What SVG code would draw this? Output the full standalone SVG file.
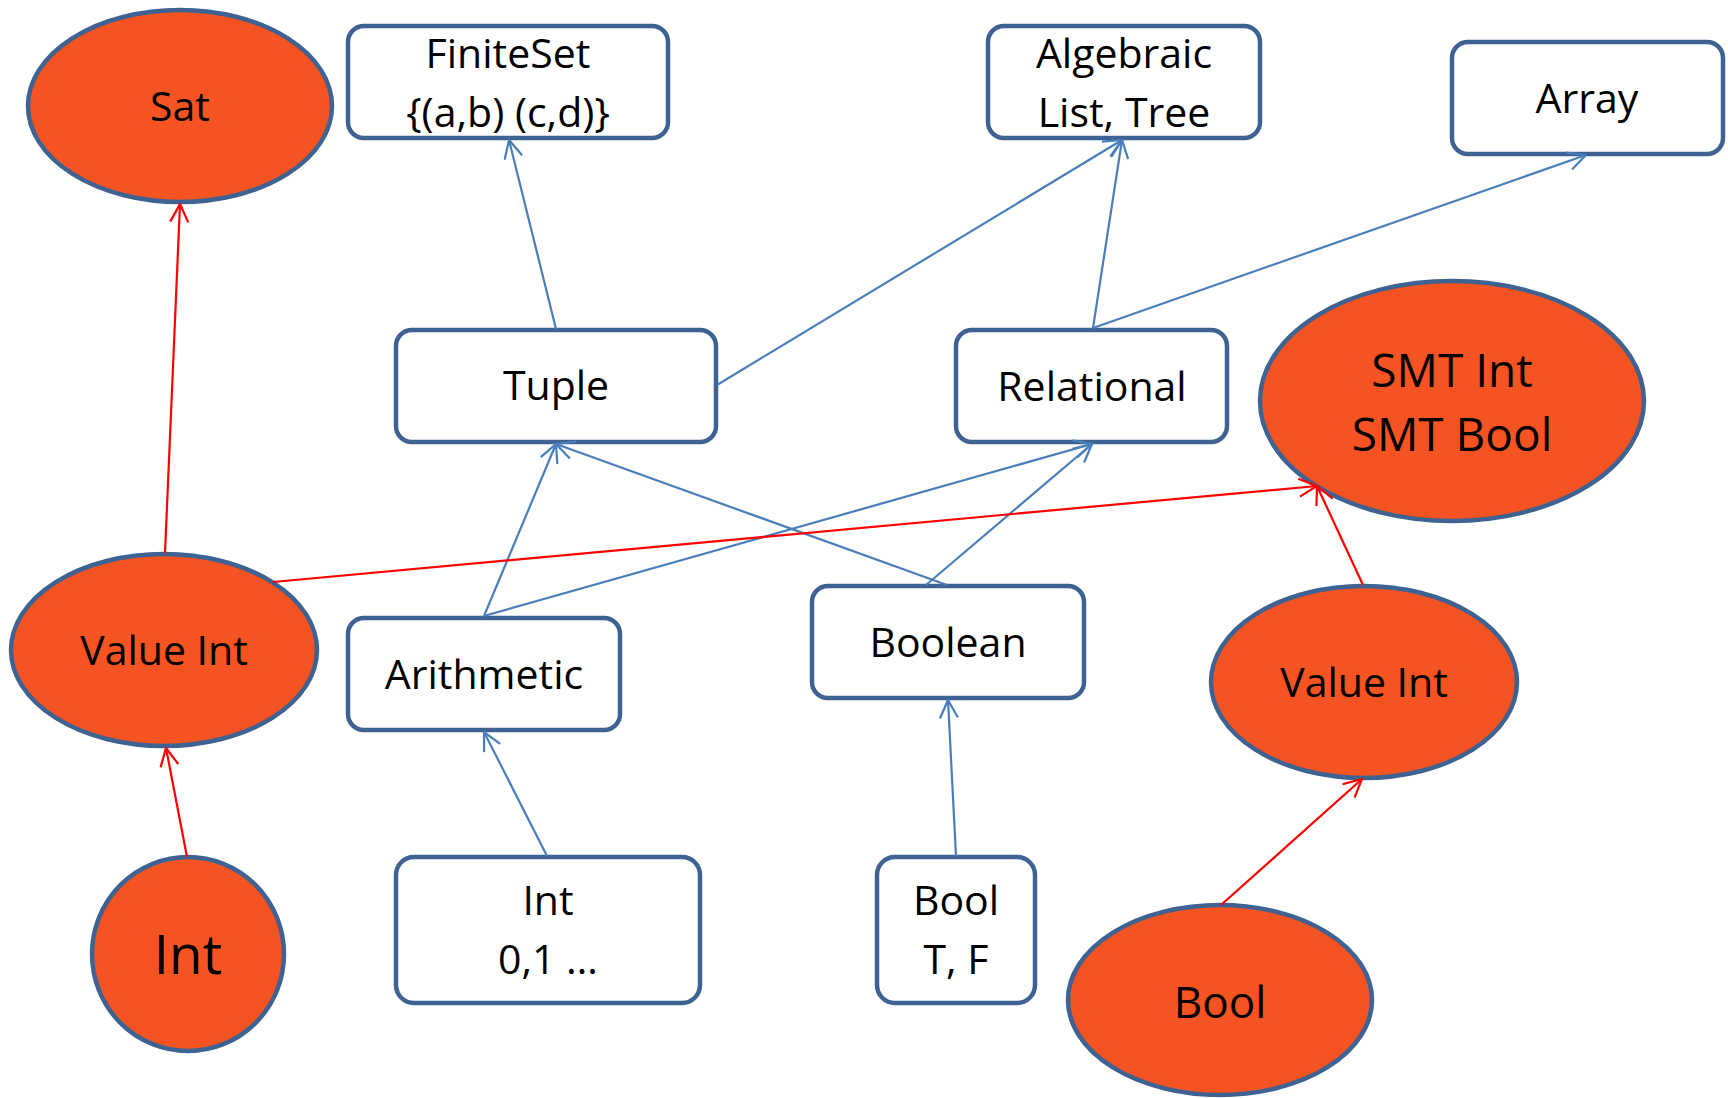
<svg xmlns="http://www.w3.org/2000/svg" width="1728" height="1098" viewBox="0 0 1728 1098">
<style>
.box{fill:#ffffff;stroke:#3E6292;stroke-width:4.5}
.ell{fill:#F55321;stroke:#3E6292;stroke-width:4.5}
text{font-family:"Open Sans","Liberation Sans",sans-serif;font-size:41px;fill:#000;text-anchor:middle}
.blue{stroke:#4A7EBB;stroke-width:2.2;fill:none}
.red{stroke:#FF0000;stroke-width:2.2;fill:none}
</style>
<defs>
<marker id="ab" viewBox="0 0 20 20" refX="19" refY="10" markerWidth="20" markerHeight="20" markerUnits="userSpaceOnUse" orient="auto">
<path d="M1,1 L19,10 L1,19" fill="none" stroke="#4A7EBB" stroke-width="2.2"/>
</marker>
<marker id="ar" viewBox="0 0 20 20" refX="19" refY="10" markerWidth="20" markerHeight="20" markerUnits="userSpaceOnUse" orient="auto">
<path d="M1,1 L19,10 L1,19" fill="none" stroke="#FF0000" stroke-width="2.2"/>
</marker>
</defs>
<g id="sat"><ellipse class="ell" cx="180" cy="106" rx="152" ry="96"/><text x="180" y="121">Sat</text></g>
<g id="finiteset"><rect class="box" x="348" y="26" width="320" height="112" rx="16"/><text x="508" y="68">FiniteSet</text><text x="508" y="127">{(a,b) (c,d)}</text></g>
<g id="algebraic"><rect class="box" x="988" y="26" width="272" height="112" rx="16"/><text x="1124" y="68">Algebraic</text><text x="1124" y="127">List, Tree</text></g>
<g id="array"><rect class="box" x="1452" y="42" width="271" height="112" rx="16"/><text x="1587" y="113">Array</text></g>
<g id="tuple"><rect class="box" x="396" y="330" width="320" height="112" rx="16"/><text x="556" y="400">Tuple</text></g>
<g id="relational"><rect class="box" x="956" y="330" width="271" height="112" rx="16"/><text x="1092" y="401">Relational</text></g>
<g id="smt"><ellipse class="ell" cx="1452" cy="401" rx="192" ry="120"/><text x="1452" y="387" style="font-size:46px">SMT Int</text><text x="1452" y="451" style="font-size:46px">SMT Bool</text></g>
<g id="valueint1"><ellipse class="ell" cx="164" cy="650" rx="153" ry="96"/><text x="164" y="665">Value Int</text></g>
<g id="arithmetic"><rect class="box" x="348" y="618" width="272" height="112" rx="16"/><text x="484" y="689">Arithmetic</text></g>
<g id="boolean"><rect class="box" x="812" y="586" width="272" height="112" rx="16"/><text x="948" y="657">Boolean</text></g>
<g id="valueint2"><ellipse class="ell" cx="1364" cy="682" rx="153" ry="96"/><text x="1364" y="697">Value Int</text></g>
<g id="intell"><ellipse class="ell" cx="188" cy="954" rx="96" ry="97"/><text x="188" y="974" style="font-size:55px">Int</text></g>
<g id="intbox"><rect class="box" x="396" y="857" width="304" height="146" rx="18"/><text x="548" y="915">Int</text><text x="548" y="974">0,1 …</text></g>
<g id="boolbox"><rect class="box" x="877" y="857" width="158" height="146" rx="18"/><text x="956" y="915">Bool</text><text x="956" y="974">T, F</text></g>
<g id="boolell"><ellipse class="ell" cx="1220" cy="1000" rx="152" ry="95"/><text x="1220" y="1018" style="font-size:44px">Bool</text></g>
<g id="connectors">
<line class="blue" x1="556" y1="329" x2="509" y2="140" marker-end="url(#ab)"/>
<line class="blue" x1="717" y1="385" x2="1122" y2="140" marker-end="url(#ab)"/>
<line class="blue" x1="1093" y1="328" x2="1122" y2="140" marker-end="url(#ab)"/>
<line class="blue" x1="1093" y1="328" x2="1586" y2="155" marker-end="url(#ab)"/>
<line class="blue" x1="484" y1="616" x2="556" y2="444" marker-end="url(#ab)"/>
<line class="blue" x1="484" y1="616" x2="1092" y2="444" marker-end="url(#ab)"/>
<line class="blue" x1="947" y1="585" x2="556" y2="444" marker-end="url(#ab)"/>
<line class="blue" x1="926" y1="585" x2="1092" y2="444" marker-end="url(#ab)"/>
<line class="blue" x1="547" y1="856" x2="484" y2="732" marker-end="url(#ab)"/>
<line class="blue" x1="956" y1="856" x2="948" y2="700" marker-end="url(#ab)"/>
<line class="red" x1="165" y1="553" x2="180" y2="204" marker-end="url(#ar)"/>
<line class="red" x1="273" y1="582" x2="1317" y2="486" marker-end="url(#ar)"/>
<line class="red" x1="1363" y1="585" x2="1317" y2="486" marker-end="url(#ar)"/>
<line class="red" x1="187" y1="857" x2="166" y2="748" marker-end="url(#ar)"/>
<line class="red" x1="1221" y1="905" x2="1362" y2="779" marker-end="url(#ar)"/>
</g>
</svg>
